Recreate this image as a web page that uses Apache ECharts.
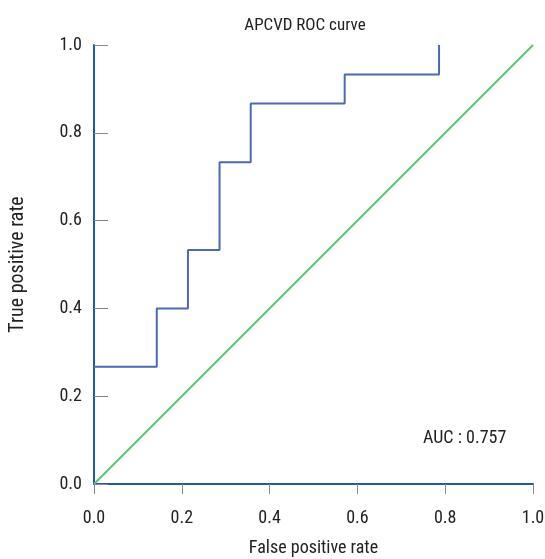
<!DOCTYPE html>
<html>
<head>
<meta charset="utf-8">
<script src="https://cdn.jsdelivr.net/npm/echarts@6/dist/echarts.min.js"></script>
<style>
  html, body { margin: 0; padding: 0; background: #fff; }
  #chart { width: 545px; height: 559px; }
</style>
</head>
<body>
<div id="chart"></div>
<script>
// ROC step points (false positive rate, true positive rate)
const fpr = [0, 0.143, 0.143, 0.214, 0.214, 0.286, 0.286, 0.357, 0.357, 0.571, 0.571, 0.786, 0.786];
const tpr = [0.267, 0.267, 0.4, 0.4, 0.533, 0.533, 0.733, 0.733, 0.867, 0.867, 0.933, 0.933, 1.0];
const diagX = [0, 1];
const diagY = [0, 1];
const tickLabels = ['0.0', '0.2', '0.4', '0.6', '0.8', '1.0'];
const aucText = 'AUC : 0.757';

const font = "'Liberation Sans Narrow', 'Roboto Condensed', 'Liberation Sans', sans-serif";
const txt = '#222';

let chart = echarts.init(document.getElementById('chart'))
chart.setOption({
    animation: false,
    title: {
        text: 'APCVD ROC curve',
        left: 300, top: 12, textAlign: 'center',
        textStyle: { fontFamily: font, fontSize: 17, fontWeight: 'normal', color: txt }
    },
    grid: { left: 94, top: 45, width: 439, height: 439, outerBoundsMode: 'none' },
    xAxis: {
        type: 'value', min: 0, max: 1, interval: 0.2,
        name: 'False positive rate', nameLocation: 'middle', nameGap: 55,
        nameTextStyle: { fontFamily: font, fontSize: 18, color: txt },
        axisLine: { onZero: false, lineStyle: { color: '#1f5c9e', width: 2 } },
        axisTick: { show: true, length: 10, lineStyle: { color: '#888' } },
        axisLabel: {
            margin: 25, fontFamily: font, fontSize: 18, color: txt,
            formatter: (v) => tickLabels[Math.round(v * 5)]
        },
        splitLine: { show: false }
    },
    yAxis: {
        type: 'value', min: 0, max: 1, interval: 0.2,
        name: 'True positive rate', nameLocation: 'middle', nameGap: 66,
        nameTextStyle: { fontFamily: font, fontSize: 20, color: txt },
        axisLine: { show: true, onZero: false, lineStyle: { color: '#1f5c9e', width: 2 } },
        axisTick: { show: true, inside: true, length: 14, lineStyle: { color: '#888' } },
        axisLabel: {
            margin: 12, fontFamily: font, fontSize: 18, color: txt,
            formatter: (v) => tickLabels[Math.round(v * 5)]
        },
        splitLine: { show: false }
    },
    graphic: [{
        type: 'text', left: 423, top: 429,
        style: { text: aucText, fontFamily: font, fontSize: 18, fill: txt }
    }],
    series: [
        {
            type: 'line',
            data: diagX.map((x, i) => [x, diagY[i]]),
            symbol: 'none',
            lineStyle: { color: '#5cc171', width: 2 },
            z: 2
        },
        {
            type: 'line',
            data: fpr.map((x, i) => [x, tpr[i]]),
            symbol: 'none',
            lineStyle: { color: '#4a6ab3', width: 2 },
            z: 3
        }
    ]
})
</script>
</body>
</html>
